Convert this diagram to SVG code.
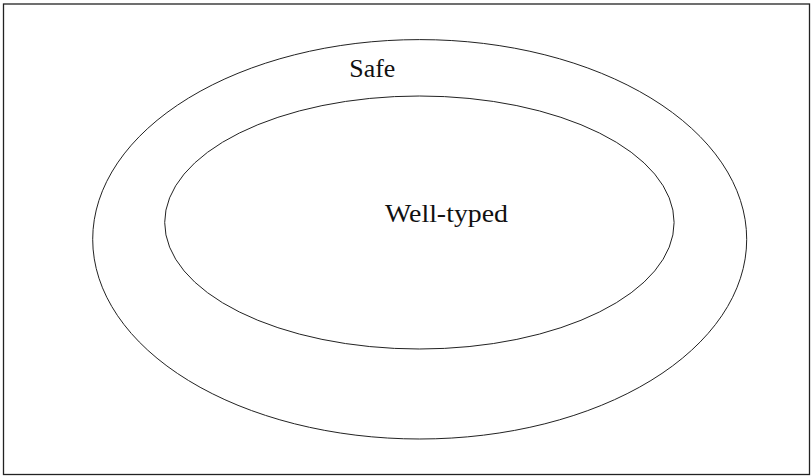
<svg xmlns="http://www.w3.org/2000/svg" width="811" height="476" viewBox="0 0 811 476">
<style>
.shape{fill:none;stroke:#222;stroke-width:1}
.lbl{font-family:"Liberation Serif","DejaVu Serif",serif;font-size:25px;fill:#111}
</style>
<rect x="0" y="0" width="811" height="476" fill="#fff"/>
<rect x="3.5" y="4" width="806" height="470.5" fill="none" stroke="#222" stroke-width="1.3"/>
<g id="safe">
<ellipse class="shape" cx="419.7" cy="239.3" rx="327" ry="199.7"/>
<text class="lbl" x="349.3" y="76.5" textLength="46" lengthAdjust="spacingAndGlyphs">Safe</text>
</g>
<g id="welltyped">
<ellipse class="shape" cx="419.4" cy="222.5" rx="254.7" ry="126.5"/>
<text class="lbl" x="385" y="221.7" textLength="123" lengthAdjust="spacingAndGlyphs">Well-typed</text>
</g>
<g id="connectors"/>
</svg>
